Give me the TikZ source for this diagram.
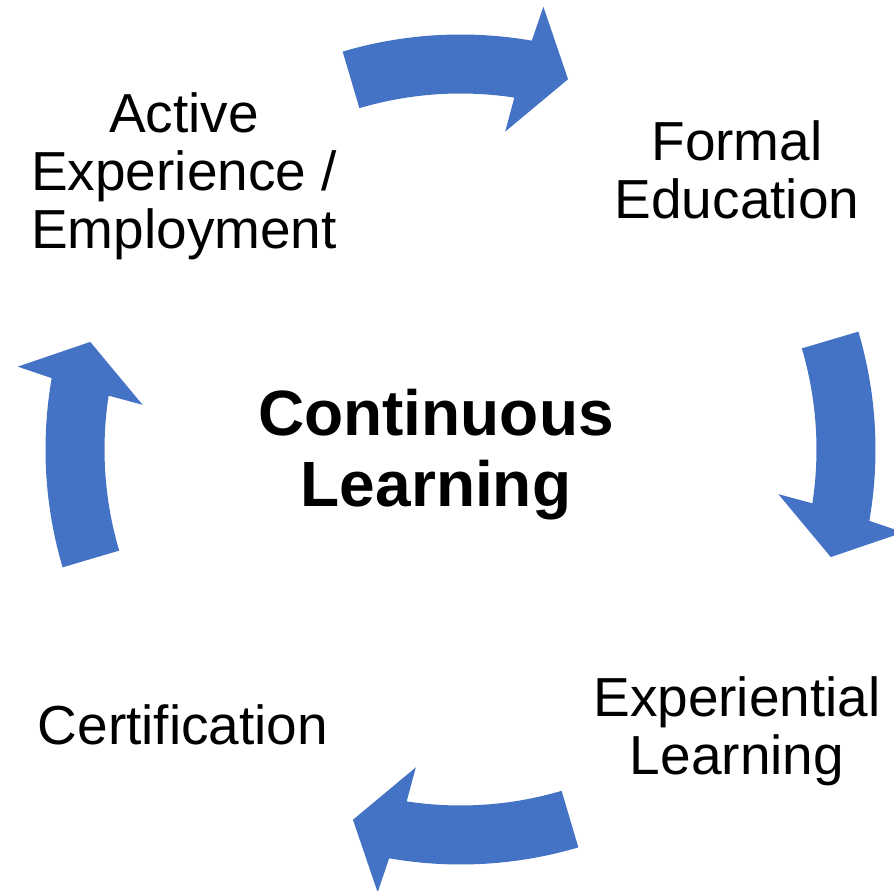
\documentclass[tikz,border=0pt]{standalone}
\usepackage{fontspec}
\setmainfont{Liberation Sans}
\definecolor{arrowblue}{HTML}{4472C4}
\tikzset{
  lbl/.style={align=center, inner sep=0pt, anchor=base, font=\fontsize{55}{58}\selectfont},
  ctr/.style={align=center, inner sep=0pt, anchor=base, font=\fontsize{64}{71}\selectfont\bfseries},
  cyclearrow/.style={fill=arrowblue}
}
\newcommand{\cyclearrowpath}{%
  \fill[cyclearrow] (106.5:415) arc[start angle=106.5, end angle=80.1, radius=415]
    -- (79.4:450.5) -- (73.8:385.6) -- (82.0:321) -- (81.3:356)
    arc[start angle=81.3, end angle=106.5, radius=356] -- cycle;}
\begin{document}
\begin{tikzpicture}[x=1pt,y=1pt]
\useasboundingbox (0,0) rectangle (894,891);
\foreach \r in {0,-90,-180,-270}{
  \begin{scope}[shift={(460.5,441.5)}, rotate=\r]
    \cyclearrowpath
  \end{scope}
}
\node[lbl] (active) at (184,642) {Active\\Experience /\\Employment};
\node[lbl] (formal) at (737,672) {Formal\\Education};
\node[lbl] (exper) at (737,116) {Experiential\\Learning};
\node[lbl] (cert) at (183,146) {Certification};
\node[ctr] (center) at (436,384) {Continuous\\Learning};
\end{tikzpicture}
\end{document}
